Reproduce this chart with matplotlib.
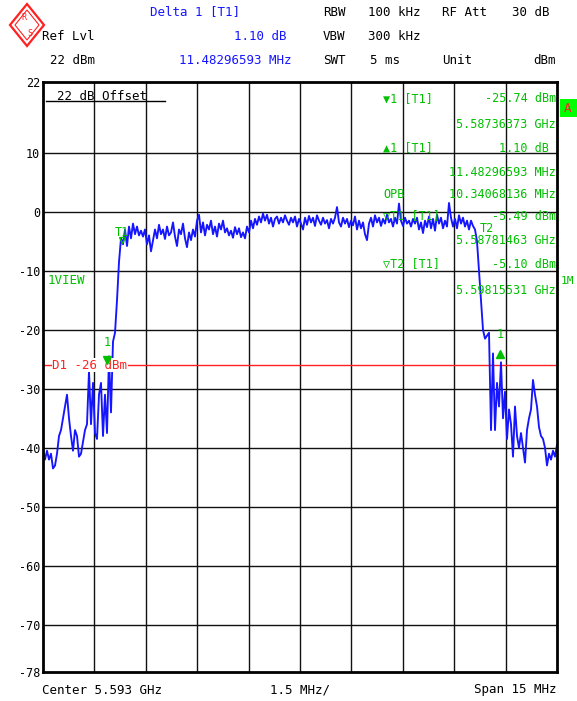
import matplotlib
matplotlib.use('Agg')
import matplotlib.pyplot as plt
import numpy as np
from matplotlib.patches import Polygon, Rectangle

# ---------------- data ----------------
center_ghz = 5.593
span_ghz = 0.015
ref_level = 22
bottom_level = -78
y_ticks = [22, 10, 0, -10, -20, -30, -40, -50, -60, -70, -78]
grid_levels = [10, 0, -10, -20, -30, -40, -50, -60, -70]
display_line = -26

levels_left = [-40.5, -42, -40.5, -42, -41, -43.5, -43, -41, -38, -37, -35, -33, -31,
               -35, -38, -40.5, -37, -38, -41.5, -41, -39, -37, -36, -27, -36, -29,
               -37.5, -38.5, -31, -29, -38, -31, -37.5, -24.5, -34, -22, -20.5]
levels_rise = [-15, -8.5, -4.5, -5.5]
levels_mid = [-3.0, -5.8, -2.5, -4.5, -2.0, -3.8, -2.5, -4.0, -3.2, -4.2, -3.0, -5.5, -4.0,
              -6.7, -4.8, -3.0, -4.5, -2.2, -3.8, -3.0, -4.6, -2.5, -4.0, -3.5, -1.8, -4.2,
              -5.8, -3.0, -3.8, -2.0, -4.5, -6.0, -3.5, -4.8, -3.0, -4.2, -1.5, -0.5, -3.5,
              -1.8, -4.0, -2.2, -3.0, -1.5, -3.8, -2.5, -4.2, -2.0, -3.0, -1.5, -3.5, -2.8,
              -4.0, -3.2, -4.4, -2.6, -3.8, -2.8, -4.3, -3.5, -4.5, -2.5, -3.5, -1.5, -2.8,
              -1.2, -2.2, -0.8, -1.8, -0.3, -1.5, -0.5, -2.0, -1.0, -2.5, -1.2, -0.8, -2.0,
              -1.0, -1.8, -0.6, -1.5, -2.2, -1.0, -1.8, -0.8, -2.5, -1.2, -2.0, -3.0, -1.0,
              -2.2, -0.7, -1.8, -1.0, -2.4, -0.6, -1.5, -2.2, -1.0, -2.0, -1.4, -2.8, -1.2,
              -2.0, -1.0, 0.8, -1.8, -2.5, -1.0, -2.0, -1.2, -2.6, -1.5, -2.3, -0.8, -3.0,
              -1.5, -2.8, -1.8, -3.8, -4.8, -2.0, -1.0, -2.5, -0.6, -1.8, -1.0, -2.4, -1.2,
              -2.0, -0.5, -1.8, -1.2, -2.5, -1.0, -2.0, 1.4, -1.5, -2.4, -1.0, -2.0, -1.5,
              -2.5, -1.2, -2.0, -1.0, -3.0, -1.8, -3.6, -1.5, -2.6, -0.8, -2.8, -1.2, -3.2,
              -0.5, -2.0, -1.0, -2.8, -1.5, -2.5, 1.5, -1.0, -2.5, -1.2, -2.8, -0.6, -2.0,
              -1.0, -2.5, -1.5, -3.0, -1.5, -2.4]
levels_right = [-3, -5, -10, -15, -20, -21.5, -21, -20.5, -37, -24, -37, -29, -33, -25.5,
                -35, -30.5, -38.5, -33.5, -36, -41.5, -33, -38, -40, -37.5, -40, -42.5,
                -37, -35, -33.5, -28.5, -31, -33, -36.5, -38, -38.5, -40, -43, -41, -42,
                -40.5, -41.5, -39.5]
trace_levels = levels_left + levels_rise + levels_mid + levels_right

marker1_freq = 5.58736373
marker1_level = -25.74
delta1_freq = 11.48296593e-3
delta1_db = 1.10
t1_freq = 5.58781463
t1_level = -5.49
t2_freq = 5.59815531
t2_level = -5.10

# ---------------- figure ----------------
W, H = 577, 701
fig = plt.figure(figsize=(W / 100, H / 100), dpi=100)
fig.patch.set_facecolor('white')

MONO = 'DejaVu Sans Mono'
GREEN = '#00c000'
BLUE = '#1515ff'
RED = '#ff2020'


def ftext(x, y, s, ha='left', color='black', size=9, **kw):
    fig.text(x / W, 1 - y / H, s, ha=ha, va='center', color=color,
             fontsize=size, family=MONO, **kw)


ax = fig.add_axes([43 / W, 29 / H, 514 / W, 590 / H])
fmin = center_ghz - span_ghz / 2
fmax = center_ghz + span_ghz / 2
freqs = np.linspace(fmin, fmax, len(trace_levels))

for g in grid_levels:
    ax.axhline(g, color='#111111', lw=1.0, zorder=1)
for i in range(1, 10):
    ax.axvline(fmin + i * span_ghz / 10, color='#111111', lw=1.0, zorder=1)

ax.plot(freqs, trace_levels, color=BLUE, lw=1.35, zorder=3)

ax.axhline(display_line, color=RED, lw=1.0, zorder=2)
ax.text(fmin + 0.00027, display_line, 'D1 -26 dBm', color=RED, fontsize=9,
        family=MONO, va='center', ha='left', zorder=4,
        bbox=dict(facecolor='white', edgecolor='none', pad=0.3))

# markers
ax.plot([marker1_freq], [marker1_level + 0.6], marker='v', color=GREEN, ms=6, zorder=5)
ax.text(marker1_freq, marker1_level + 3.6, '1', color=GREEN, fontsize=8.5,
        family=MONO, ha='center', va='center', zorder=5)
ax.plot([marker1_freq + delta1_freq], [marker1_level + delta1_db + 0.6], marker='^',
        color=GREEN, ms=6, zorder=5)
ax.text(marker1_freq + delta1_freq, marker1_level + delta1_db + 3.8, '1', color=GREEN,
        fontsize=8.5, family=MONO, ha='center', va='center', zorder=5)
ax.text(t1_freq, t1_level + 2.0, 'T1', color=GREEN, fontsize=8.5, family=MONO,
        ha='center', va='center', zorder=5)
ax.plot([t1_freq], [t1_level + 0.7], marker='v', color=GREEN, ms=4, zorder=5,
        markerfacecolor='none')
ax.text(t2_freq + 0.0001, t2_level + 2.3, 'T2', color=GREEN, fontsize=8.5, family=MONO,
        ha='left', va='center', zorder=5)

ax.set_xlim(fmin, fmax)
ax.set_ylim(bottom_level, ref_level)
ax.set_xticks([])
ax.set_yticks(y_ticks)
ax.set_yticklabels([str(t) for t in y_ticks], family=MONO, fontsize=8.5)
ax.tick_params(axis='y', length=0, pad=2)
for sp in ax.spines.values():
    sp.set_linewidth(2.0)
    sp.set_zorder(6)

# "22 dB Offset" line and text
ax.plot([0.005, 0.237], [0.968, 0.968], transform=ax.transAxes, color='black', lw=1.0)
ftext(57, 96, '22 dB Offset', size=9)
ftext(48, 281, '1VIEW', color=GREEN, size=9)

# marker info block
info_rows = [
    (99, '\u25bc1 [T1]', '-25.74 dBm'),
    (124, '', '5.58736373 GHz'),
    (148, '\u25b21 [T1]', '1.10 dB '),
    (172, '', '11.48296593 MHz'),
    (194, 'OPB', '10.34068136 MHz'),
    (216, '\u25bdT1 [T1]', '-5.49 dBm'),
    (241, '', '5.58781463 GHz'),
    (264, '\u25bdT2 [T1]', '-5.10 dBm'),
    (290, '', '5.59815531 GHz'),
]
for y, left, right in info_rows:
    if left:
        ftext(383, y, left, color=GREEN, size=8.5)
    ftext(556, y, right, ha='right', color=GREEN, size=8.5)

# header
ftext(150, 12, 'Delta 1 [T1]', color=BLUE, size=9)
ftext(42, 36, 'Ref Lvl', size=9)
ftext(287, 36, '1.10 dB', ha='right', color=BLUE, size=9)
ftext(50, 60, '22 dBm', size=9)
ftext(292, 60, '11.48296593 MHz', ha='right', color=BLUE, size=9)
ftext(323, 12, 'RBW', size=9)
ftext(368, 12, '100 kHz', size=9)
ftext(442, 12, 'RF Att', size=9)
ftext(550, 12, '30 dB', ha='right', size=9)
ftext(323, 36, 'VBW', size=9)
ftext(368, 36, '300 kHz', size=9)
ftext(323, 60, 'SWT', size=9)
ftext(400, 60, '5 ms', ha='right', size=9)
ftext(442, 60, 'Unit', size=9)
ftext(556, 60, 'dBm', ha='right', size=9)

# footer
ftext(42, 690, 'Center 5.593 GHz', size=9)
ftext(300, 690, '1.5 MHz/', ha='center', size=9)
ftext(556, 690, 'Span 15 MHz', ha='right', size=9)

# right side annotations
fig.patches.append(Rectangle((560 / W, 1 - 117 / H), 17 / W, 18 / H, transform=fig.transFigure,
                             facecolor='#00ff00', edgecolor='none'))
ftext(568, 108, 'A', ha='center', color=RED, size=9)
ftext(561, 281, '1M', color=GREEN, size=8)

# R&S logo
def fpoly(pts, **kw):
    fig.patches.append(Polygon([(x / W, 1 - y / H) for x, y in pts], closed=True,
                               transform=fig.transFigure, **kw))

fpoly([(27, 4), (44, 25), (27, 46), (10, 25)], facecolor='white', edgecolor=RED, lw=1.6)
fpoly([(27, 10), (39, 25), (27, 40), (15, 25)], facecolor='none', edgecolor=RED, lw=0.8)
ftext(24, 18, 'R', ha='center', color=RED, size=6)
ftext(30, 33, 'S', ha='center', color=RED, size=6)

fig.savefig('out.png', dpi=100, facecolor='white')
